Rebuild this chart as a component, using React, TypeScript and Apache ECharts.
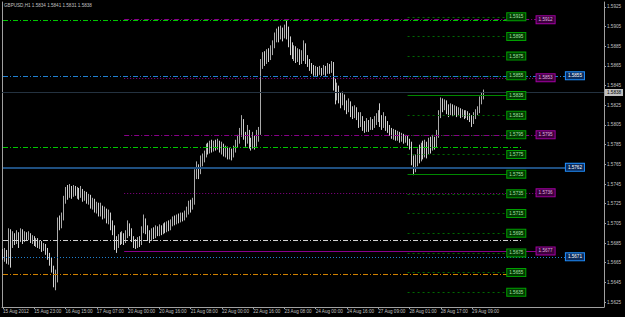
import React, { useEffect, useRef } from "react";
import * as echarts from "echarts";

const symbolName = "GBPUSD,H1";

// [open, high, low, close], hourly bars
const bars: [number, number, number, number][] = [
  [1.5675,1.5679,1.5668,1.5672],[1.5672,1.5680,1.5666,1.5676],[1.5676,1.5678,1.5664,1.5670],[1.5670,1.5700,1.5663,1.5690],
  [1.5690,1.5699,1.5660,1.5685],[1.5685,1.5697,1.5680,1.5692],[1.5692,1.5695,1.5683,1.5688],[1.5688,1.5698,1.5684,1.5694],
  [1.5694,1.5696,1.5680,1.5689],[1.5689,1.5700,1.5686,1.5695],[1.5695,1.5699,1.5684,1.5690],[1.5690,1.5697,1.5686,1.5693],
  [1.5693,1.5696,1.5687,1.5691],[1.5691,1.5697,1.5688,1.5694],[1.5694,1.5695,1.5685,1.5689],[1.5689,1.5693,1.5684,1.5690],
  [1.5690,1.5692,1.5682,1.5686],[1.5686,1.5690,1.5681,1.5688],[1.5688,1.5690,1.5680,1.5684],[1.5684,1.5688,1.5679,1.5685],
  [1.5685,1.5687,1.5676,1.5681],[1.5681,1.5685,1.5677,1.5683],[1.5683,1.5684,1.5673,1.5678],[1.5678,1.5680,1.5668,1.5672],
  [1.5672,1.5675,1.5662,1.5668],[1.5668,1.5670,1.5655,1.5660],[1.5660,1.5662,1.5640,1.5648],[1.5648,1.5658,1.5637,1.5655],
  [1.5655,1.5711,1.5645,1.5708],[1.5708,1.5713,1.5698,1.5705],[1.5705,1.5716,1.5700,1.5712],[1.5712,1.5733,1.5708,1.5728],
  [1.5728,1.5742,1.5725,1.5738],[1.5738,1.5744,1.5729,1.5735],[1.5735,1.5745,1.5731,1.5740],[1.5740,1.5743,1.5730,1.5736],
  [1.5736,1.5744,1.5732,1.5741],[1.5741,1.5743,1.5733,1.5737],[1.5737,1.5742,1.5730,1.5739],[1.5739,1.5741,1.5729,1.5734],
  [1.5734,1.5743,1.5731,1.5738],[1.5738,1.5740,1.5727,1.5733],[1.5733,1.5738,1.5728,1.5735],[1.5735,1.5737,1.5725,1.5730],
  [1.5730,1.5735,1.5724,1.5732],[1.5732,1.5734,1.5720,1.5726],[1.5726,1.5731,1.5719,1.5728],[1.5728,1.5730,1.5716,1.5722],
  [1.5722,1.5727,1.5715,1.5724],[1.5724,1.5726,1.5712,1.5719],[1.5719,1.5726,1.5712,1.5721],[1.5721,1.5723,1.5709,1.5716],
  [1.5716,1.5722,1.5710,1.5718],[1.5718,1.5720,1.5705,1.5712],[1.5712,1.5719,1.5704,1.5714],[1.5714,1.5716,1.5698,1.5705],
  [1.5705,1.5708,1.5693,1.5700],[1.5700,1.5703,1.5678,1.5688],[1.5688,1.5692,1.5675,1.5683],[1.5683,1.5694,1.5680,1.5690],
  [1.5690,1.5696,1.5683,1.5687],[1.5687,1.5697,1.5684,1.5692],[1.5692,1.5695,1.5683,1.5688],[1.5688,1.5698,1.5685,1.5694],
  [1.5694,1.5708,1.5690,1.5702],[1.5702,1.5705,1.5692,1.5697],[1.5697,1.5700,1.5686,1.5690],[1.5690,1.5692,1.5680,1.5686],
  [1.5686,1.5689,1.5679,1.5683],[1.5683,1.5691,1.5680,1.5688],[1.5688,1.5692,1.5681,1.5685],[1.5685,1.5702,1.5683,1.5698],
  [1.5698,1.5714,1.5695,1.5708],[1.5708,1.5710,1.5694,1.5700],[1.5700,1.5703,1.5688,1.5694],[1.5694,1.5698,1.5685,1.5690],
  [1.5690,1.5700,1.5687,1.5697],[1.5697,1.5701,1.5689,1.5693],[1.5693,1.5703,1.5690,1.5698],[1.5698,1.5702,1.5692,1.5695],
  [1.5695,1.5704,1.5692,1.5700],[1.5700,1.5703,1.5693,1.5697],[1.5697,1.5705,1.5694,1.5701],[1.5701,1.5706,1.5695,1.5699],
  [1.5699,1.5707,1.5696,1.5703],[1.5703,1.5708,1.5697,1.5700],[1.5700,1.5709,1.5698,1.5705],[1.5705,1.5712,1.5702,1.5708],
  [1.5708,1.5713,1.5703,1.5706],[1.5706,1.5714,1.5704,1.5710],[1.5710,1.5715,1.5705,1.5708],[1.5708,1.5716,1.5706,1.5712],
  [1.5712,1.5716,1.5707,1.5710],[1.5710,1.5718,1.5708,1.5714],[1.5714,1.5722,1.5711,1.5718],[1.5718,1.5728,1.5714,1.5724],
  [1.5724,1.5729,1.5716,1.5722],[1.5722,1.5731,1.5719,1.5727],[1.5727,1.5760,1.5724,1.5755],[1.5755,1.5768,1.5750,1.5762],
  [1.5762,1.5765,1.5750,1.5758],[1.5758,1.5774,1.5755,1.5768],[1.5768,1.5776,1.5763,1.5771],[1.5771,1.5779,1.5767,1.5775],
  [1.5775,1.5786,1.5772,1.5782],[1.5782,1.5787,1.5775,1.5779],[1.5779,1.5789,1.5776,1.5785],[1.5785,1.5790,1.5777,1.5781],
  [1.5781,1.5789,1.5778,1.5786],[1.5786,1.5790,1.5779,1.5783],[1.5783,1.5791,1.5780,1.5787],[1.5787,1.5789,1.5777,1.5782],
  [1.5782,1.5788,1.5775,1.5784],[1.5784,1.5786,1.5773,1.5779],[1.5779,1.5784,1.5772,1.5781],[1.5781,1.5783,1.5770,1.5776],
  [1.5776,1.5782,1.5770,1.5778],[1.5778,1.5781,1.5769,1.5775],[1.5775,1.5784,1.5772,1.5780],[1.5780,1.5790,1.5777,1.5786],
  [1.5786,1.5795,1.5782,1.5790],[1.5790,1.5802,1.5786,1.5798],[1.5798,1.5815,1.5793,1.5808],[1.5808,1.5811,1.5790,1.5795],
  [1.5795,1.5798,1.5783,1.5790],[1.5790,1.5805,1.5786,1.5796],[1.5796,1.5800,1.5781,1.5788],[1.5788,1.5792,1.5779,1.5784],
  [1.5784,1.5798,1.5781,1.5790],[1.5790,1.5794,1.5780,1.5786],[1.5786,1.5800,1.5783,1.5792],[1.5792,1.5803,1.5788,1.5797],
  [1.5797,1.5872,1.5795,1.5866],[1.5866,1.5879,1.5862,1.5874],[1.5874,1.5880,1.5865,1.5870],[1.5870,1.5882,1.5867,1.5877],
  [1.5877,1.5883,1.5869,1.5874],[1.5874,1.5886,1.5871,1.5880],[1.5880,1.5891,1.5876,1.5886],[1.5886,1.5899,1.5883,1.5893],
  [1.5893,1.5903,1.5889,1.5898],[1.5898,1.5905,1.5889,1.5895],[1.5895,1.5906,1.5892,1.5901],[1.5901,1.5904,1.5890,1.5896],
  [1.5896,1.5907,1.5893,1.5903],[1.5903,1.5911,1.5892,1.5899],[1.5899,1.5905,1.5884,1.5890],[1.5890,1.5895,1.5876,1.5885],
  [1.5885,1.5889,1.5872,1.5878],[1.5878,1.5886,1.5870,1.5882],[1.5882,1.5885,1.5868,1.5875],[1.5875,1.5883,1.5869,1.5879],
  [1.5879,1.5882,1.5866,1.5872],[1.5872,1.5881,1.5867,1.5876],[1.5876,1.5891,1.5870,1.5884],[1.5884,1.5888,1.5867,1.5874],
  [1.5874,1.5876,1.5864,1.5869],[1.5869,1.5872,1.5860,1.5865],[1.5865,1.5868,1.5857,1.5862],[1.5862,1.5866,1.5855,1.5858],
  [1.5858,1.5865,1.5855,1.5861],[1.5861,1.5864,1.5854,1.5857],[1.5857,1.5865,1.5856,1.5860],[1.5860,1.5863,1.5855,1.5858],
  [1.5858,1.5866,1.5856,1.5862],[1.5862,1.5865,1.5855,1.5859],[1.5859,1.5868,1.5857,1.5864],[1.5864,1.5867,1.5857,1.5861],
  [1.5861,1.5870,1.5858,1.5866],[1.5866,1.5869,1.5840,1.5848],[1.5848,1.5852,1.5826,1.5836],[1.5836,1.5848,1.5830,1.5842],
  [1.5842,1.5845,1.5827,1.5833],[1.5833,1.5838,1.5822,1.5829],[1.5829,1.5839,1.5825,1.5834],[1.5834,1.5836,1.5820,1.5826],
  [1.5826,1.5830,1.5816,1.5822],[1.5822,1.5832,1.5818,1.5827],[1.5827,1.5829,1.5813,1.5820],[1.5820,1.5824,1.5811,1.5816],
  [1.5816,1.5825,1.5812,1.5821],[1.5821,1.5823,1.5810,1.5815],[1.5815,1.5818,1.5802,1.5808],[1.5808,1.5818,1.5803,1.5812],
  [1.5812,1.5814,1.5799,1.5805],[1.5805,1.5809,1.5797,1.5801],[1.5801,1.5812,1.5798,1.5806],[1.5806,1.5810,1.5798,1.5803],
  [1.5803,1.5813,1.5800,1.5808],[1.5808,1.5811,1.5800,1.5805],[1.5805,1.5814,1.5802,1.5809],[1.5809,1.5817,1.5805,1.5812],
  [1.5812,1.5820,1.5808,1.5815],[1.5815,1.5827,1.5803,1.5810],[1.5810,1.5815,1.5800,1.5806],[1.5806,1.5818,1.5802,1.5811],
  [1.5811,1.5814,1.5799,1.5805],[1.5805,1.5809,1.5797,1.5801],[1.5801,1.5805,1.5794,1.5798],[1.5798,1.5802,1.5791,1.5795],
  [1.5795,1.5801,1.5790,1.5797],[1.5797,1.5800,1.5789,1.5793],[1.5793,1.5799,1.5789,1.5795],[1.5795,1.5798,1.5787,1.5791],
  [1.5791,1.5797,1.5788,1.5793],[1.5793,1.5796,1.5786,1.5790],[1.5790,1.5795,1.5787,1.5792],[1.5792,1.5794,1.5784,1.5788],
  [1.5788,1.5791,1.5780,1.5785],[1.5785,1.5788,1.5764,1.5770],[1.5770,1.5774,1.5754,1.5762],[1.5762,1.5775,1.5757,1.5768],
  [1.5768,1.5781,1.5763,1.5775],[1.5775,1.5785,1.5766,1.5772],[1.5772,1.5787,1.5768,1.5780],[1.5780,1.5789,1.5770,1.5776],
  [1.5776,1.5790,1.5772,1.5783],[1.5783,1.5788,1.5771,1.5778],[1.5778,1.5792,1.5775,1.5786],[1.5786,1.5793,1.5776,1.5782],
  [1.5782,1.5795,1.5779,1.5790],[1.5790,1.5793,1.5780,1.5785],[1.5785,1.5800,1.5782,1.5795],[1.5795,1.5820,1.5792,1.5815],
  [1.5815,1.5833,1.5812,1.5828],[1.5828,1.5832,1.5818,1.5824],[1.5824,1.5831,1.5820,1.5828],[1.5828,1.5830,1.5816,1.5822],
  [1.5822,1.5826,1.5813,1.5819],[1.5819,1.5827,1.5815,1.5823],[1.5823,1.5826,1.5814,1.5818],[1.5818,1.5825,1.5815,1.5821],
  [1.5821,1.5824,1.5813,1.5817],[1.5817,1.5823,1.5814,1.5820],[1.5820,1.5822,1.5812,1.5816],[1.5816,1.5821,1.5813,1.5818],
  [1.5818,1.5820,1.5811,1.5815],[1.5815,1.5820,1.5812,1.5817],[1.5817,1.5819,1.5810,1.5814],[1.5814,1.5817,1.5808,1.5812],
  [1.5812,1.5815,1.5803,1.5809],[1.5809,1.5818,1.5806,1.5814],[1.5814,1.5821,1.5811,1.5818],[1.5818,1.5824,1.5815,1.5820],
  [1.5820,1.5834,1.5817,1.5830],[1.5830,1.5838,1.5826,1.5834],[1.5834,1.5841,1.5831,1.5838],
];

const dateTicks = [
  "15 Aug 2012", "15 Aug 23:00", "16 Aug 15:00", "17 Aug 07:00", "20 Aug 00:00", "20 Aug 16:00",
  "21 Aug 08:00", "22 Aug 00:00", "22 Aug 16:00", "23 Aug 08:00", "24 Aug 00:00", "24 Aug 16:00",
  "27 Aug 09:00", "28 Aug 01:00", "28 Aug 17:00", "29 Aug 09:00",
];
const barsPerTick = 16;
const totalSlots = 308;

const priceTicks = [1.5625, 1.5645, 1.5665, 1.5685, 1.5705, 1.5725, 1.5745, 1.5765, 1.5785, 1.5805, 1.5825, 1.5845, 1.5865, 1.5885, 1.5905, 1.5925];

const pivotLevels = [1.5915, 1.5895, 1.5875, 1.5855, 1.5835, 1.5815, 1.5795, 1.5775, 1.5755, 1.5735, 1.5715, 1.5695, 1.5675, 1.5655, 1.5635];
const pivotSolid = [1.5835, 1.5755];
const purpleLevels = [1.5912, 1.5853, 1.5795, 1.5736, 1.5677];
const purpleStyles = ["dashdot", "dot", "dashdot", "dot", "solid"];
const blueLevels = [1.5855, 1.5762, 1.5671];
const blueStyles = ["dashdot", "solid", "dot"];
const brightGreenLevels = [1.5911, 1.5782];
const whiteLevel = 1.5688;
const orangeLevel = 1.5653;

const FONT = "Liberation Sans";
const FS = 4.6;
const AXIS = "#a0a0a0";

const dash = (t: string): any =>
  t === "dashdot" ? [5, 2, 1, 2] : t === "dot" ? [1, 2] : t === "dash" ? [2, 3] : "solid";

function seg(price: number, start: number, end: number, color: string, type: string, width: number, box?: any) {
  return [
    {
      coord: [start, price],
      lineStyle: { color, type: dash(type), width },
      label: box
        ? {
            show: true,
            position: "end",
            distance: 0,
            formatter: price.toFixed(4),
            fontSize: FS,
            fontFamily: FONT,
            lineHeight: 5,
            color: box.text,
            backgroundColor: box.fill,
            borderColor: box.border,
            borderWidth: 1,
            padding: [1, 2, 1, 2],
          }
        : { show: false },
    },
    { coord: [end, price] },
  ];
}

export default function App() {
  const ref = useRef<HTMLDivElement>(null);
  useEffect(() => {
    if (!ref.current) return;
    const chart = echarts.init(ref.current, undefined, { renderer: "svg" });
    const categories = Array.from({ length: totalSlots }, (_, i) =>
      i % barsPerTick === 0 && i / barsPerTick < dateTicks.length ? dateTicks[i / barsPerTick] : ""
    );
    const last = bars[bars.length - 1];
    const greenBox = { fill: "#003a00", border: "#00a000", text: "#a8e0a8" };
    const purpleBox = { fill: "#3c003c", border: "#a000a0", text: "#e0b0e0" };
    const blueBox = { fill: "#0c2c5c", border: "#2090ff", text: "#ffffff" };

    const lines: any[] = [];
    lines.push({
      yAxis: last[3],
      lineStyle: { color: "#243240", type: "solid", width: 1, opacity: 1 },
      label: {
        show: true,
        position: "end",
        distance: 1,
        formatter: last[3].toFixed(4),
        fontSize: FS,
        fontFamily: FONT,
        lineHeight: 5,
        color: "#000000",
        backgroundColor: "#c0c0c0",
        padding: [1, 2, 1, 2],
      },
    });
    pivotLevels.forEach((p) =>
      lines.push(seg(p, 207, 258, pivotSolid.includes(p) ? "#008800" : "#006a00", pivotSolid.includes(p) ? "solid" : "dash", 1, greenBox))
    );
    brightGreenLevels.forEach((p) => lines.push(seg(p, 0, 266, "#00c800", "dashdot", 1)));
    lines.push(seg(whiteLevel, 0, 266, "#d0d0d0", "dashdot", 1));
    lines.push(seg(orangeLevel, 0, 266, "#d08000", "dashdot", 1));
    purpleLevels.forEach((p, i) => lines.push(seg(p, 62, 273, "#8a008a", purpleStyles[i], 1, purpleBox)));
    blueLevels.forEach((p, i) =>
      lines.push(seg(p, 0, 288, blueStyles[i] === "solid" ? "#1f4f80" : "#2080d0", blueStyles[i], blueStyles[i] === "solid" ? 2 : 1, blueBox))
    );

    chart.setOption({
      animation: false,
      backgroundColor: "#000000",
      title: {
        text: `${symbolName} ${last.map((v) => v.toFixed(4)).join(" ")}`,
        left: 4,
        top: 3,
        padding: 0,
        textStyle: { fontSize: FS, fontFamily: FONT, color: "#c0c0c0", fontWeight: "normal" },
      },
      grid: { left: 2, right: 21, top: 2, bottom: 10 },
      xAxis: {
        type: "category",
        data: categories,
        boundaryGap: true,
        axisLine: { lineStyle: { color: AXIS } },
        axisTick: {
          show: true,
          length: 2,
          alignWithLabel: true,
          interval: (i: number, v: string) => v !== "",
          lineStyle: { color: AXIS },
        },
        axisLabel: { interval: 0, align: "left", fontSize: FS, fontFamily: FONT, color: "#c0c0c0", margin: 2 },
        splitLine: { show: false },
      },
      yAxis: [
        {
          type: "value",
          position: "right",
          min: 1.562,
          max: 1.593,
          axisLine: { show: true, lineStyle: { color: AXIS } },
          axisTick: { show: true, length: 2, customValues: priceTicks, lineStyle: { color: AXIS } },
          axisLabel: {
            customValues: priceTicks,
            formatter: (v: number) => v.toFixed(4),
            fontSize: FS,
            fontFamily: FONT,
            color: "#c0c0c0",
            margin: 3,
          },
          splitLine: { show: false },
        },
        {
          type: "value",
          position: "left",
          min: 1.562,
          max: 1.593,
          axisLine: { show: true, lineStyle: { color: AXIS } },
          axisTick: { show: false },
          axisLabel: { show: false },
          splitLine: { show: false },
        },
      ],
      series: [
        {
          type: "candlestick",
          yAxisIndex: 0,
          barWidth: 0.4,
          barMinWidth: 0,
          data: bars.map(([o, h, l, c]) => [o, c, l, h]),
          itemStyle: {
            color: "#bcbcbc",
            color0: "#e8e8e8",
            borderColor: "#bcbcbc",
            borderColor0: "#e8e8e8",
            borderWidth: 0.9,
          },
          markLine: {
            silent: true,
            precision: 4,
            symbol: ["none", "none"],
            animation: false,
            data: lines,
          },
        },
      ],
    });
    return () => chart.dispose();
  }, []);
  return (
    <div
      ref={ref}
      style={{ position: "fixed", left: 0, top: 0, width: 625, height: 317, background: "#000" }}
    />
  );
}
